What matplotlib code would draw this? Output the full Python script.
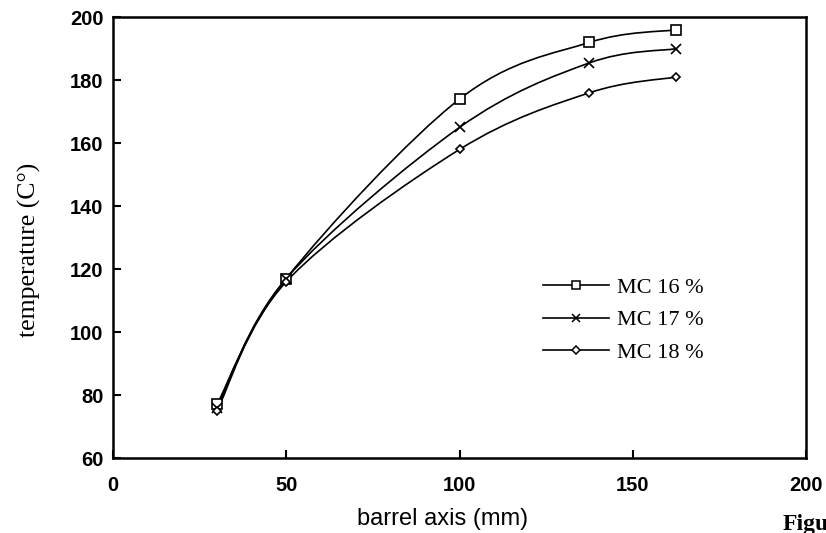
import numpy as np
import matplotlib.pyplot as plt
from matplotlib.path import Path
from matplotlib.patches import PathPatch
from matplotlib.lines import Line2D
from matplotlib.ticker import MultipleLocator

# barrel positions (mm) and temperatures (C)
x_pos = [30, 50, 100, 137.5, 162.5]
mc16 = [77, 117, 174, 192, 196]
mc17 = [76, 117, 165, 185.5, 190]
mc18 = [75, 116, 158, 176, 181]
labels = ["MC 16 %", "MC 17 %", "MC 18 %"]
markers = ["s", "x", "D"]
msizes = [7, 7, 4.5]


def smooth_path(xs, ys):
    # catmull-rom -> cubic bezier, matplotlib draws the curve itself
    p = np.column_stack([xs, ys]).astype(float)
    ext = np.vstack([p[0], p, p[-1]])
    verts = [p[0]]
    codes = [Path.MOVETO]
    for i in range(1, len(ext) - 2):
        c1 = ext[i] + (ext[i + 1] - ext[i - 1]) / 6.0
        c2 = ext[i + 1] - (ext[i + 2] - ext[i]) / 6.0
        verts += [c1, c2, ext[i + 1]]
        codes += [Path.CURVE4] * 3
    return Path(verts, codes)


fig = plt.figure(figsize=(8.26, 5.33), dpi=100)
ax = fig.add_axes([0.1368, 0.1407, 0.839, 0.827])

handles = []
for ys, lab, mk, ms in zip([mc16, mc17, mc18], labels, markers, msizes):
    ax.add_patch(PathPatch(smooth_path(x_pos, ys), fill=False, ec='black', lw=1.2))
    ax.plot(x_pos, ys, ls='none', marker=mk, ms=ms, mfc='white', mec='black', mew=1.2)
    handles.append(Line2D([], [], color='black', lw=1.2, marker=mk, ms=ms * 0.85,
                          mfc='white', mec='black', mew=1.1, label=lab))

ax.set_xlim(0, 200)
ax.set_ylim(60, 200)
ax.xaxis.set_major_locator(MultipleLocator(50))
ax.yaxis.set_major_locator(MultipleLocator(20))
for s in ax.spines.values():
    s.set_linewidth(1.8)
ax.tick_params(direction='in', length=6, width=1.5, labelsize=14.5)
ax.tick_params(axis='x', pad=13)
ax.tick_params(axis='y', pad=7)
for t in ax.get_xticklabels() + ax.get_yticklabels():
    t.set_fontfamily('Liberation Sans')
    t.set_fontweight('bold')

ax.set_xlabel("barrel axis (mm)", fontfamily='Liberation Sans', fontsize=17, va='center')
ax.xaxis.set_label_coords(0.475, -0.138)
ax.set_ylabel("temperature (C°)", fontfamily='Liberation Serif', fontsize=18.5, va='center')
ax.yaxis.set_label_coords(-0.12, 0.472)

ax.legend(handles=handles, loc='upper left', bbox_to_anchor=(543 / 826, 1 - 277 / 533),
          bbox_transform=fig.transFigure, frameon=False, borderpad=0, borderaxespad=0,
          prop={'family': 'Liberation Serif', 'size': 16}, handlelength=2.95,
          handletextpad=0.4, labelspacing=0.55)

fig.text(783 / 826, 1 - 514 / 533, "Figu", fontfamily='Liberation Serif', fontsize=17,
         fontweight='bold', va='top')

fig.savefig("out.png", dpi=100)
